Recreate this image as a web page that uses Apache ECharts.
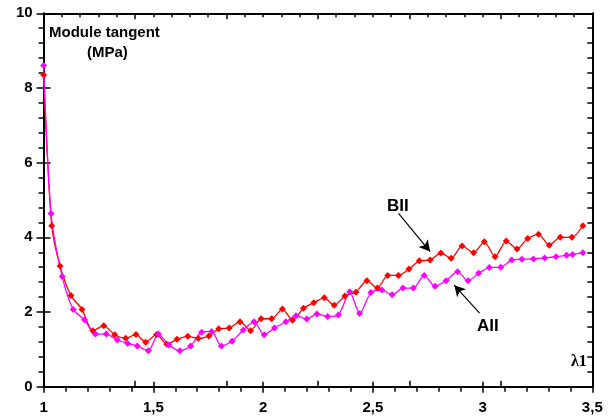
<!DOCTYPE html>
<html><head><meta charset="utf-8">
<script src="https://cdn.jsdelivr.net/npm/echarts@6/dist/echarts.min.js"></script>
<style>html,body{margin:0;padding:0;background:#fff}#c{width:611px;height:418px}</style>
</head><body><div id="c"></div>
<script>
// BII series (red)
var lamB = [1.00,1.037,1.075,1.125,1.175,1.224,1.274,1.324,1.374,1.421,1.465,1.515,1.561,1.608,1.657,1.705,1.753,1.798,1.846,1.895,1.943,1.991,2.039,2.088,2.134,2.184,2.231,2.279,2.324,2.373,2.423,2.473,2.521,2.568,2.617,2.665,2.712,2.761,2.810,2.857,2.907,2.959,3.008,3.057,3.108,3.157,3.206,3.255,3.304,3.354,3.407,3.457];
var valB = [8.35,4.31,3.23,2.44,2.07,1.50,1.63,1.39,1.30,1.40,1.19,1.40,1.14,1.27,1.35,1.29,1.36,1.55,1.57,1.74,1.50,1.82,1.82,2.08,1.78,2.10,2.25,2.38,2.18,2.43,2.53,2.84,2.64,2.98,2.98,3.15,3.37,3.39,3.58,3.44,3.77,3.59,3.88,3.48,3.90,3.69,3.97,4.08,3.79,4.00,4.00,4.31];
// AII series (magenta)
var lamA = [1.00,1.034,1.085,1.135,1.186,1.236,1.286,1.336,1.383,1.427,1.477,1.523,1.571,1.621,1.670,1.720,1.766,1.810,1.859,1.910,1.959,2.005,2.052,2.104,2.150,2.199,2.245,2.294,2.343,2.395,2.440,2.491,2.541,2.588,2.637,2.685,2.734,2.784,2.834,2.886,2.934,2.982,3.031,3.083,3.133,3.179,3.232,3.283,3.335,3.383,3.410,3.457];
var valA = [8.60,4.64,2.95,2.07,1.79,1.41,1.41,1.25,1.16,1.09,0.96,1.41,1.12,0.96,1.09,1.46,1.48,1.09,1.22,1.52,1.74,1.39,1.57,1.74,1.90,1.81,1.95,1.88,1.92,2.54,1.96,2.52,2.59,2.46,2.64,2.64,2.98,2.69,2.84,3.08,2.84,3.04,3.19,3.20,3.39,3.41,3.42,3.45,3.48,3.52,3.54,3.59];
var xTicks = {min:1, max:3.5, interval:0.5};
var yTicks = {min:0, max:10, interval:2};
var yTitle = ['Module tangent', '(MPa)'];
var xTitle = 'λ1';
var labelB = 'BII', labelA = 'AII';
var arrowB = [[2.617,4.64],[2.761,3.62]];
var arrowA = [[2.986,1.97],[2.871,2.72]];

function pairs(xs, ys){ return xs.map(function(x,i){ return [x, ys[i]]; }); }
var FONT = 'Arial, "Liberation Sans", sans-serif';
var blk = '#000';
function xAx(pos, sc, opts){
  var o = {type:'value', position:pos, min:sc.min, max:sc.max, interval:sc.interval,
    splitLine:{show:false}, axisLine:{show:false, lineStyle:{color:blk,width:2}},
    axisTick:{show:false}, minorTick:{show:false}, axisLabel:{show:false}};
  for (var k in opts) o[k] = opts[k];
  return o;
}
var chart = echarts.init(document.getElementById('c'), null, {renderer:'canvas'});
var xa = [
  xAx('bottom', xTicks, {axisLine:{show:true,onZero:false,lineStyle:{color:blk,width:2}},
    axisTick:{show:true,inside:false,length:6,lineStyle:{color:blk,width:1.5}},
    minorTick:{show:true,splitNumber:5,length:5,lineStyle:{color:blk,width:1.5}},
    axisLabel:{show:true,margin:14,color:blk,fontWeight:'bold',fontSize:15,fontFamily:FONT,
      formatter:function(v){return String(v).replace('.',',');}}}),
  xAx('bottom', xTicks, {axisTick:{show:true,inside:true,length:5,lineStyle:{color:blk,width:1.5}}}),
  xAx('top', {min:0,max:6,interval:1}, {axisLine:{show:true,onZero:false,lineStyle:{color:blk,width:2}},
    axisTick:{show:true,inside:true,length:6,lineStyle:{color:blk,width:1.5}},
    minorTick:{show:true,splitNumber:5,length:4,lineStyle:{color:blk,width:1.5}}}),
  xAx('top', {min:0,max:6,interval:1}, {axisTick:{show:true,inside:false,length:6,lineStyle:{color:blk,width:1.5}}})
];
var ya = [
  xAx('left', yTicks, {axisLine:{show:true,onZero:false,lineStyle:{color:blk,width:2}},
    axisTick:{show:true,inside:false,length:7,lineStyle:{color:blk,width:1.5}},
    minorTick:{show:true,splitNumber:5,length:5,lineStyle:{color:blk,width:1.5}},
    axisLabel:{show:true,margin:11,color:blk,fontWeight:'bold',fontSize:15,fontFamily:FONT}}),
  xAx('left', yTicks, {axisTick:{show:true,inside:true,length:4,lineStyle:{color:blk,width:1.5}}}),
  xAx('right', yTicks, {axisLine:{show:true,onZero:false,lineStyle:{color:blk,width:2}},
    axisTick:{show:true,inside:true,length:5,lineStyle:{color:blk,width:1.5}},
    minorTick:{show:true,splitNumber:5,length:5,lineStyle:{color:blk,width:1.5}}}),
  xAx('right', yTicks, {axisTick:{show:true,inside:false,length:7,lineStyle:{color:blk,width:1.5}}})
];
function arrowLine(seg){
  return {symbol:['none','arrow'], symbolSize:[9,11], silent:true, animation:false,
    lineStyle:{color:blk,width:1.2,type:'solid'}, label:{show:false},
    data:[[{coord:seg[0]},{coord:seg[1]}]]};
}
chart.setOption({
  animation:false,
  backgroundColor:'#fff',
  grid:{left:43.6, right:18.7, top:13.3, bottom:31.3, containLabel:false},
  xAxis: xa,
  yAxis: ya,
  series:[
    {type:'line', name:labelB, data:pairs(lamB,valB), xAxisIndex:0, yAxisIndex:0,
     smooth:0.25, symbol:'diamond', symbolSize:7, showSymbol:true,
     itemStyle:{color:'#ff0000'}, lineStyle:{color:'#ff0000',width:1.3},
     markLine:arrowLine(arrowB)},
    {type:'line', name:labelA, data:pairs(lamA,valA), xAxisIndex:0, yAxisIndex:0,
     smooth:0.25, symbol:'diamond', symbolSize:7, showSymbol:true,
     itemStyle:{color:'#ff00ff'}, lineStyle:{color:'#ff00ff',width:1.3},
     markLine:arrowLine(arrowA)}
  ],
  graphic:[
    {type:'text', left:49, top:25, style:{text:yTitle[0], fill:blk, font:'bold 15px '+FONT}},
    {type:'text', left:87, top:45, style:{text:yTitle[1], fill:blk, font:'bold 15px '+FONT}},
    {type:'text', left:387, top:198, style:{text:labelB, fill:blk, font:'bold 17px '+FONT}},
    {type:'text', left:477, top:318, style:{text:labelA, fill:blk, font:'bold 17px '+FONT}},
    {type:'text', left:571, top:354, style:{text:xTitle, fill:blk, font:'bold 16px "Liberation Serif", "DejaVu Serif", serif'}}
  ]
});
</script>
</body></html>
